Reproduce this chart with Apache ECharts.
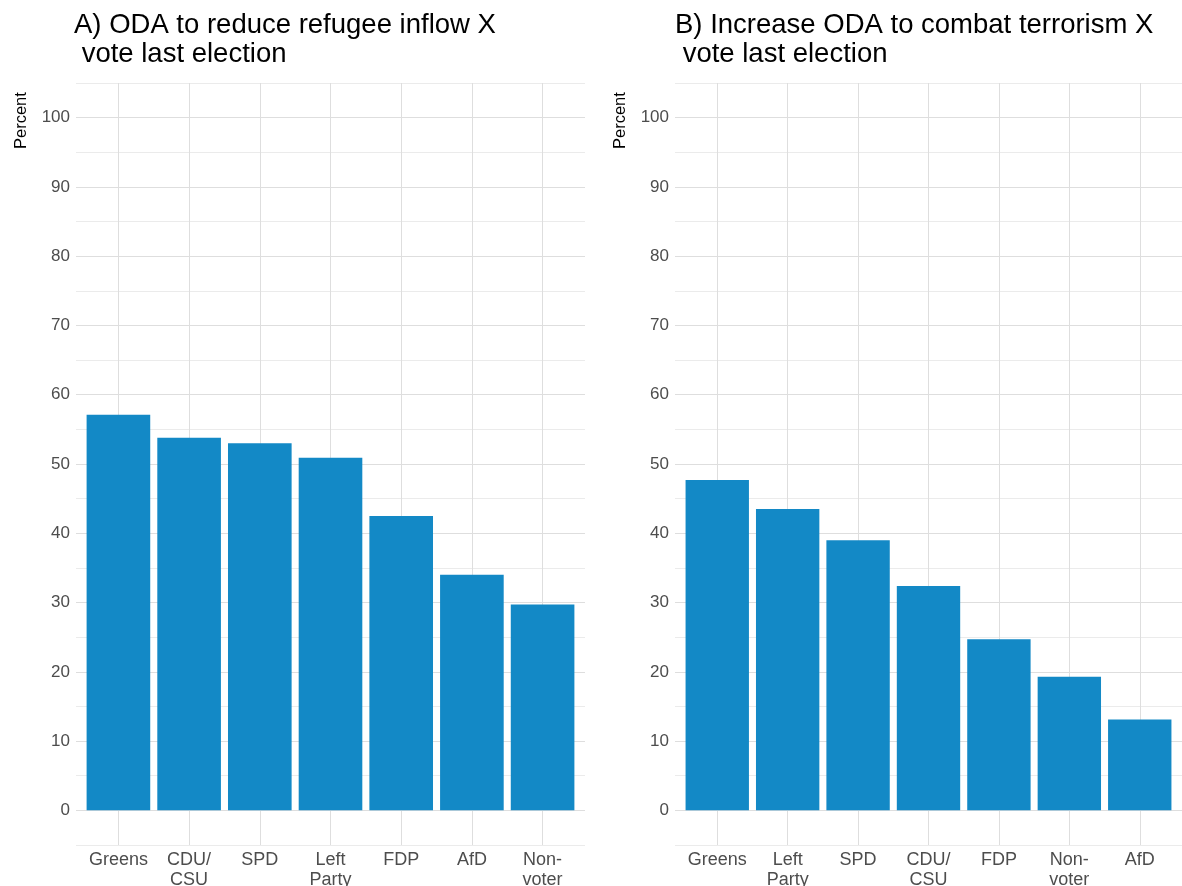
<!DOCTYPE html>
<html>
<head>
<meta charset="utf-8">
<script src="https://cdn.jsdelivr.net/npm/echarts@6/dist/echarts.min.js"></script>
<style>
  html, body { margin: 0; padding: 0; background: #fff; }
  #chart { width: 1182px; height: 886px; }
</style>
</head>
<body>
<div id="chart"></div>
<script>
// panel A: ODA to reduce refugee inflow
const partiesA = ['Greens', 'CDU/\nCSU', 'SPD', 'Left\nParty', 'FDP', 'AfD', 'Non-\nvoter'];
const valuesA = [57.1, 53.8, 53.0, 50.9, 42.5, 34.0, 29.7];

// panel B: increase ODA to combat terrorism
const partiesB = ['Greens', 'Left\nParty', 'SPD', 'CDU/\nCSU', 'FDP', 'Non-\nvoter', 'AfD'];
const valuesB = [47.7, 43.5, 39.0, 32.4, 24.7, 19.3, 13.1];

const titleA = 'A) ODA to reduce refugee inflow X\n vote last election';
const titleB = 'B) Increase ODA to combat terrorism X\n vote last election';

const barColor = '#1389c6';
const gridColor = '#dedede';
const textGrey = '#4d4d4d';
const font = '"Liberation Sans", Arial, sans-serif';

const chart = echarts.init(document.getElementById('chart'));

// ggplot style: discrete axis expanded by 0.6 on both sides (bands of 7 -> 7.2 units)
function panel(left, width) {
  const unit = width / 7.2;
  const pad = unit * 0.1;
  return {
    outer: { left: left, width: width, top: 83, bottom: 41, outerBoundsMode: 'none' },
    inner: { left: left + pad, width: width - 2 * pad, top: 83, bottom: 41, outerBoundsMode: 'none' }
  };
}
const pA = panel(76, 509);
const pB = panel(675, 507);

function valueAxis(gridIndex, show) {
  return {
    type: 'value',
    gridIndex: gridIndex,
    min: -5,
    max: 105,
    interval: 5,
    show: show,
    axisLine: { show: false },
    axisTick: { show: false },
    axisLabel: {
      color: textGrey,
      fontSize: 17,
      fontFamily: font,
      margin: 6,
      formatter: function (v) {
        return (v % 10 === 0 && v >= 0 && v <= 100) ? String(v) : '';
      }
    },
    splitLine: {
      show: show,
      lineStyle: { color: ['#ebebeb', gridColor], width: 1 }
    }
  };
}

function catAxis(gridIndex, cats) {
  return {
    type: 'category',
    gridIndex: gridIndex,
    data: cats,
    axisLine: { show: false },
    axisTick: { show: false },
    axisLabel: {
      interval: 0,
      color: textGrey,
      fontSize: 18,
      fontFamily: font,
      lineHeight: 20,
      margin: 5
    },
    splitLine: {
      show: true,
      alignWithLabel: true,
      lineStyle: { color: gridColor, width: 1 }
    }
  };
}

function hiddenX(gridIndex) {
  return { type: 'value', gridIndex: gridIndex, show: false, min: 0, max: 1 };
}

const titleStyle = { fontSize: 27.5, fontWeight: 'normal', color: '#000', fontFamily: font, lineHeight: 29 };

const option = {
  animation: false,
  title: [
    { text: titleA, left: 74, top: 11, padding: 0, textStyle: titleStyle },
    { text: titleB, left: 675, top: 11, padding: 0, textStyle: titleStyle }
  ],
  grid: [pA.outer, pA.inner, pB.outer, pB.inner],
  xAxis: [hiddenX(0), catAxis(1, partiesA), hiddenX(2), catAxis(3, partiesB)],
  yAxis: [valueAxis(0, true), valueAxis(1, false), valueAxis(2, true), valueAxis(3, false)],
  graphic: [
    { type: 'text', x: 21, y: 149, rotation: Math.PI / 2,
      style: { text: 'Percent', fontSize: 16.5, fontFamily: font, fill: '#000', align: 'left', verticalAlign: 'middle' } },
    { type: 'text', x: 620, y: 149, rotation: Math.PI / 2,
      style: { text: 'Percent', fontSize: 16.5, fontFamily: font, fill: '#000', align: 'left', verticalAlign: 'middle' } }
  ],
  series: [
    { type: 'bar', xAxisIndex: 1, yAxisIndex: 1, data: valuesA, barWidth: '90%',
      itemStyle: { color: barColor } },
    { type: 'bar', xAxisIndex: 3, yAxisIndex: 3, data: valuesB, barWidth: '90%',
      itemStyle: { color: barColor } }
  ]
};

chart.setOption(option);
</script>
</body>
</html>
